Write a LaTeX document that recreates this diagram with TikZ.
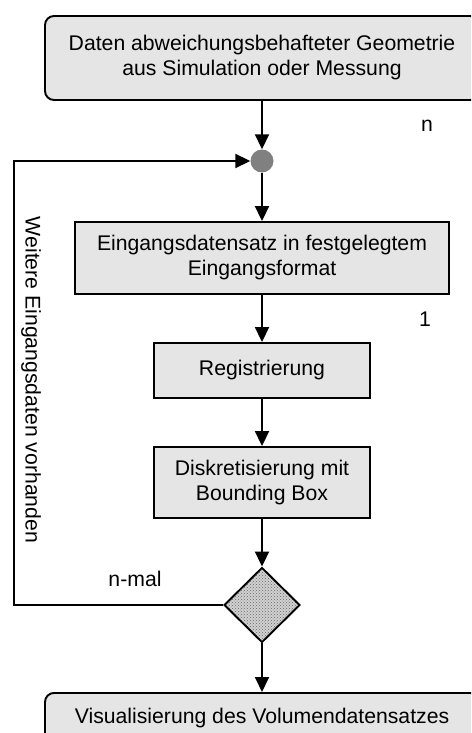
\documentclass[tikz,border=0pt]{standalone}
\usepackage{fontspec}
\setmainfont{Liberation Sans}
\usetikzlibrary{arrows.meta,shapes.geometric,patterns}
\tikzset{wire/.style={line width=1.9pt}}
\tikzset{flow/.style={wire, -{Triangle[length=15pt,width=14pt]}}}
\tikzset{block/.style={draw, line width=1.9pt, fill=black!10, align=center, inner sep=0pt}}
\tikzset{endblock/.style={block, rounded corners=9pt, minimum width=434pt}}
\tikzset{junction/.style={circle, fill=black!50, minimum size=23pt, inner sep=0pt}}
\tikzset{decision/.style={diamond, draw, line width=1.9pt, inner sep=0pt, minimum width=76pt, minimum height=75pt, preaction={fill=black!18}, pattern=crosshatch dots, pattern color=black!60}}
\tikzset{tag/.style={inner sep=0pt}}

\begin{document}
\begin{tikzpicture}[x=1pt, y=-1pt, font=\fontsize{21.2}{25}\selectfont]
\def\xmid{262}
\useasboundingbox (0,0) rectangle (471,733);
\clip (0,0) rectangle (471,733);
\node[endblock, minimum height=84pt] (data) at (\xmid,58) {Daten abweichungsbehafteter Geometrie\\aus Simulation oder Messung};
\node[junction] (merge) at (\xmid,161) {};
\node[block, minimum width=374pt, minimum height=72pt] (input) at (\xmid,258) {Eingangsdatensatz in festgelegtem\\Eingangsformat};
\node[block, minimum width=216pt, minimum height=55pt] (reg) at (\xmid,370.5) {Registrierung};
\node[block, minimum width=216pt, minimum height=71pt] (disc) at (\xmid,482.5) {Diskretisierung mit\\Bounding Box};
\node[decision] (check) at (\xmid,605) {};
\node[endblock, anchor=north, minimum height=50pt] (vis) at (\xmid,692) {Visualisierung des Volumendatensatzes};
\coordinate (loopbottom) at (14,605);
\coordinate (looptop) at (14,161);
% arrows
\draw[flow] (data) -- (merge);
\draw[flow] (merge) -- (input);
\draw[flow] (input) -- (reg);
\draw[flow] (reg) -- (disc);
\draw[flow] (disc) -- (check);
\draw[flow] (check) -- (vis);
\draw[flow] (check.west) -- (loopbottom) -- (looptop) -- (merge);
% labels
\node[tag] (count) at (427,126) {n};
\node[tag] (one) at (425,319) {1};
\node[tag] (times) at (135,579) {n-mal};
\node[tag, rotate=-90] (more) at (31,380) {Weitere Eingangsdaten vorhanden};
\end{tikzpicture}
\end{document}
